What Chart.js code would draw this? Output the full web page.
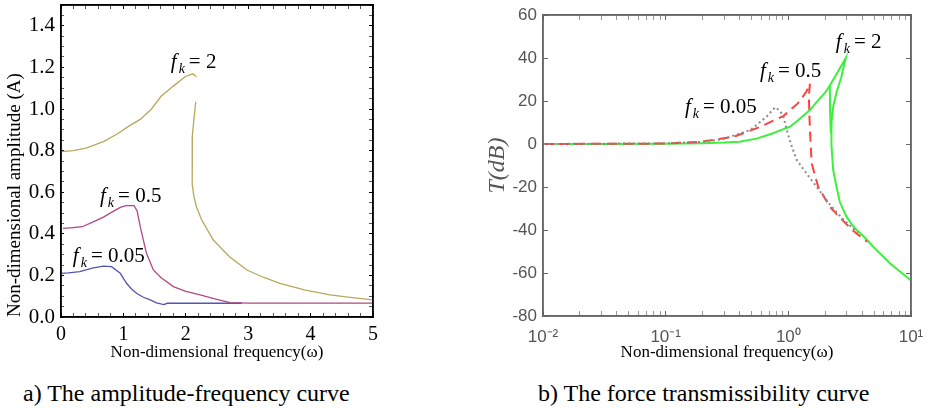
<!DOCTYPE html>
<html>
<head>
<meta charset="utf-8">
<script src="https://cdn.jsdelivr.net/npm/chart.js@4.4.1/dist/chart.umd.min.js"></script>
<style>
  body { margin: 0; background: #fff; width: 927px; height: 408px; position: relative; overflow: hidden;
         font-family: 'Liberation Serif', 'Times New Roman', serif; }
  canvas { position: absolute; top: 0; }
  #ampChart { left: 0; }
  #transChart { left: 440px; }
  .cap { position: absolute; top: 378px; font-size: 24px; line-height: 30px; white-space: nowrap; color: #000; }
</style>
</head>
<body>
<canvas id="ampChart" width="400" height="363"></canvas>
<canvas id="transChart" width="487" height="363"></canvas>
<div class="cap" style="left:23px">a) The amplitude-frequency curve</div>
<div class="cap" style="left:538px">b) The force transmissibility curve</div>
<script>
// ---- a) amplitude-frequency data, [omega, A] ----
const ampFk2Upper = [[0,0.795],[0.2,0.8],[0.4,0.812],[0.68,0.843],[0.9,0.88],[1.1,0.92],[1.27,0.95],[1.45,1.0],
  [1.6,1.06],[1.8,1.11],[1.99,1.155],[2.07,1.165],[2.12,1.168],[2.17,1.155]];
const ampFk2Lower = [[2.16,1.035],[2.13,0.95],[2.105,0.87],[2.1,0.75],[2.105,0.64],[2.13,0.58],[2.17,0.53],
  [2.25,0.47],[2.44,0.37],[2.7,0.29],[2.98,0.226],[3.25,0.19],[3.51,0.162],[3.9,0.13],[4.31,0.106],[4.7,0.092],[5,0.082]];
const ampFk05 = [[0.03,0.426],[0.2,0.43],[0.34,0.434],[0.5,0.455],[0.68,0.48],[0.85,0.51],[0.95,0.527],[1.04,0.535],
  [1.17,0.535],[1.22,0.51],[1.27,0.434],[1.32,0.37],[1.37,0.306],[1.48,0.226],[1.6,0.19],[1.8,0.146],[2.0,0.123],
  [2.23,0.106],[2.45,0.088],[2.71,0.069],[3,0.067],[5,0.067]];
const ampFk005 = [[0,0.21],[0.12,0.212],[0.3,0.218],[0.5,0.235],[0.68,0.245],[0.81,0.242],[0.95,0.21],[1.05,0.162],
  [1.13,0.135],[1.21,0.114],[1.32,0.095],[1.43,0.082],[1.53,0.068],[1.65,0.06],[1.7,0.066],[2.9,0.066]];
const ampXRange = [0, 5];
const ampYRange = [0, 1.5];
const ampXTicks = [0, 1, 2, 3, 4, 5];
const ampYTicks = [0, 0.2, 0.4, 0.6, 0.8, 1.0, 1.2, 1.4];

// ---- b) force transmissibility data, [omega, T(dB)] ----
const trFk2 = [[0.01,0],[0.03,0],[0.1,0.1],[0.2,0.4],[0.3,0.7],[0.4,1.1],[0.55,2.5],[0.75,5],[0.9,6.8],[1.03,8],
  [1.2,11],[1.5,15.8],[1.7,19.5],[2.0,24],[2.18,27.2],[2.5,33],[2.94,40],[2.7,31],[2.47,24],[2.32,17.4],[2.25,10],
  [2.24,6.5],[2.25,0],[2.28,-6],[2.32,-12],[2.45,-19],[2.63,-27],[2.98,-33.8],[3.3,-37.5],[3.6,-40],[4.2,-43.5],
  [4.92,-47.8],[6.73,-55.5],[10,-63.5]];
const trFk2Jump = [[2.18,27.2],[2.19,15],[2.22,5]];
const trFk05 = [[0.01,0],[0.1,0.2],[0.19,1],[0.36,3.4],[0.59,8],[0.91,13],[1.2,19],[1.4,24.3],[1.5,28.2],[1.47,22],
  [1.49,11],[1.52,0],[1.55,-9],[1.75,-19.9],[2.18,-29.2],[2.76,-35.4],[3.4,-40.5],[4.4,-45.5]];
const trFk005 = [[0.01,0],[0.1,0.3],[0.2,1],[0.295,2.3],[0.49,6.5],[0.665,12.7],[0.78,17.1],[0.85,15.5],[0.91,13],
  [0.97,6.5],[1.05,0],[1.17,-7.4],[1.4,-13.5],[1.7,-19.9],[2.25,-29.2],[2.8,-35],[3.4,-39.5],[3.7,-41]];
const trXRange = [0.01, 10];
const trYRange = [-80, 60];
const trXTicks = [0.01, 0.1, 1, 10];
const trYTicks = [-80, -60, -40, -20, 0, 20, 40, 60];

const fkValues = ['2', '0.5', '0.05'];

const xy = arr => arr.map(p => ({ x: p[0], y: p[1] }));
// outline of the plot box, from the axis limits
const boxPath = (xr, yr) => xy([[xr[0], yr[0]], [xr[0], yr[1]], [xr[1], yr[1]], [xr[1], yr[0]], [xr[0], yr[0]]]);

// tick positions incl. minor ones (linear: n parts between majors, log: 2..9 per decade)
const withMinor = (majors, n) => {
  const out = [];
  majors.forEach((v, i) => {
    out.push(v);
    if (i < majors.length - 1) for (let k = 1; k < n; k++) out.push(v + (majors[i + 1] - v) * k / n);
  });
  return out;
};
const logMinor = majors => {
  const out = [];
  majors.forEach((v, i) => { out.push(v); if (i < majors.length - 1) for (let k = 2; k < 10; k++) out.push(v * k); });
  return out;
};
const isMajor = (v, majors) => majors.some(m => Math.abs(m - v) < 1e-9 * Math.max(1, Math.abs(m)));

// f_k = ... labels
function fkPlugin(items) {
  return {
    id: 'fkLabels',
    afterDatasetsDraw(chart) {
      const { ctx, scales: { x, y } } = chart;
      ctx.save();
      ctx.fillStyle = '#000';
      ctx.textBaseline = 'alphabetic';
      ctx.textAlign = 'left';
      items.forEach((it, i) => {
        let px = x.getPixelForValue(it.x), py = y.getPixelForValue(it.y);
        ctx.font = 'italic 21px "Liberation Serif"';
        ctx.fillText('f', px, py);
        px += ctx.measureText('f').width + 2;
        ctx.font = 'italic 14px "Liberation Serif"';
        ctx.fillText('k', px, py + 5);
        px += ctx.measureText('k').width + 4;
        ctx.font = '21px "Liberation Serif"';
        ctx.fillText('= ' + fkValues[i], px, py);
      });
      ctx.restore();
    }
  };
}

const line = (data, color, extra) => Object.assign({
  data: xy(data), borderColor: color, borderWidth: 1.3, pointRadius: 0, fill: false, tension: 0
}, extra || {});
const frame = (xr, yr, color) => ({
  data: boxPath(xr, yr), borderColor: color, borderWidth: 1.5, pointRadius: 0, fill: false, tension: 0, clip: false
});

const serif = 'Liberation Serif';
const sans = 'Liberation Sans';

// a zero-size axis that only draws one side of the box, with its ticks pointing inward
const tickAxis = (opts, color, tickLen, ticks, majors, fit) => Object.assign({
  weight: 0,
  ticks: { display: false },
  grid: { display: true, drawOnChartArea: false, drawTicks: true, tickLength: -tickLen,
          tickColor: c => isMajor(c.tick.value, majors) ? color : color + 'aa', tickWidth: 1 },
  border: { display: true, color: color, width: 1.5 },
  afterBuildTicks: s => { s.ticks = ticks.map(v => ({ value: v })); },
  afterFit: fit
}, opts);

const fitX = h => s => { s.height = h; s.paddingLeft = 0; s.paddingRight = 0; };
const fitY = w => s => { s.width = w; s.paddingTop = 0; s.paddingBottom = 0; };
const noLines = { grid: { display: false, drawTicks: false }, border: { display: false } };

const ampXAll = withMinor(ampXTicks, 5);
const ampYAll = withMinor(ampYTicks.concat([1.6]), 4).filter(v => v <= ampYRange[1] + 1e-9);

new Chart(document.getElementById('ampChart'), {
  type: 'line',
  data: {
    datasets: [
      frame(ampXRange, ampYRange, '#000'),
      line(ampFk2Upper, '#b8a85c'),
      line(ampFk2Lower, '#b8a85c'),
      line(ampFk05, '#b04a82'),
      line(ampFk005, '#5454b4')
    ]
  },
  options: {
    responsive: false, animation: false, devicePixelRatio: 1,
    layout: { padding: { left: 4, top: 5, right: 27, bottom: 0 } },
    plugins: { legend: { display: false }, tooltip: { enabled: false } },
    scales: {
      x: Object.assign({
        type: 'linear', position: 'bottom', weight: 1, min: ampXRange[0], max: ampXRange[1],
        afterBuildTicks: s => { s.ticks = ampXTicks.map(v => ({ value: v })); },
        ticks: { padding: 6, autoSkip: false, maxRotation: 0, color: '#000', font: { family: serif, size: 20 } },
        title: { display: true, text: 'Non-dimensional frequency(ω)', color: '#000', padding: 0, font: { family: serif, size: 17 } },
        afterFit: fitX(46)
      }, noLines),
      y: Object.assign({
        type: 'linear', position: 'left', weight: 1, min: ampYRange[0], max: ampYRange[1],
        afterBuildTicks: s => { s.ticks = ampYTicks.map(v => ({ value: v })); },
        ticks: { padding: 6, autoSkip: false, color: '#000', font: { family: serif, size: 21 }, callback: v => v.toFixed(1) },
        title: { display: true, text: 'Non-dimensional amplitude (A)', align: 'start', color: '#000', padding: 0, font: { family: serif, size: 19 } },
        afterFit: fitY(57)
      }, noLines),
      xb: tickAxis({ type: 'linear', position: 'bottom', min: ampXRange[0], max: ampXRange[1] }, '#000000', 4, ampXAll, ampXTicks, fitX(0)),
      xt: tickAxis({ type: 'linear', position: 'top', min: ampXRange[0], max: ampXRange[1] }, '#000000', 4, ampXAll, ampXTicks, fitX(0)),
      yl: tickAxis({ type: 'linear', position: 'left', min: ampYRange[0], max: ampYRange[1] }, '#000000', 3, ampYAll, ampYTicks, fitY(0)),
      yr: tickAxis({ type: 'linear', position: 'right', min: ampYRange[0], max: ampYRange[1] }, '#000000', 4, ampYAll, ampYTicks, fitY(0))
    }
  },
  plugins: [fkPlugin([{ x: 1.76, y: 1.197 }, { x: 0.625, y: 0.553 }, { x: 0.19, y: 0.264 }])]
});

const supDigits = { '-': '⁻', '0': '⁰', '1': '¹', '2': '²', '3': '³' };
const sup = n => String(n).split('').map(c => supDigits[c]).join('');
const trXAll = logMinor(trXTicks);

new Chart(document.getElementById('transChart'), {
  type: 'line',
  data: {
    datasets: [
      frame(trXRange, trYRange, '#666'),
      line(trFk005, '#8a8a8a', { borderWidth: 2, borderDash: [2, 3] }),
      line(trFk05, '#ff4040', { borderWidth: 2, borderDash: [10, 6] }),
      line(trFk2, '#3ef03e', { borderWidth: 2 }),
      line(trFk2Jump, '#3ef03e', { borderWidth: 2 })
    ]
  },
  options: {
    responsive: false, animation: false, devicePixelRatio: 1,
    layout: { padding: { left: 43, top: 15, right: 16, bottom: 0 } },
    plugins: { legend: { display: false }, tooltip: { enabled: false } },
    scales: {
      x: Object.assign({
        type: 'logarithmic', position: 'bottom', weight: 1, min: trXRange[0], max: trXRange[1],
        afterBuildTicks: s => { s.ticks = trXTicks.map(v => ({ value: v })); },
        ticks: { padding: 11, maxRotation: 0, autoSkip: false, color: '#555', font: { family: sans, size: 17 },
                 callback: v => '10' + sup(Math.round(Math.log10(v))) },
        title: { display: true, text: 'Non-dimensional frequency(ω)', color: '#000', padding: 0, font: { family: serif, size: 17 } },
        afterFit: fitX(47)
      }, noLines),
      y: Object.assign({
        type: 'linear', position: 'left', weight: 1, min: trYRange[0], max: trYRange[1],
        afterBuildTicks: s => { s.ticks = trYTicks.map(v => ({ value: v })); },
        ticks: { padding: 6, autoSkip: false, color: '#555', font: { family: sans, size: 17 } },
        title: { display: true, text: 'T(dB)', color: '#555', padding: 0, font: { family: serif, size: 24, style: 'italic' } },
        afterFit: fitY(60)
      }, noLines),
      xb: tickAxis({ type: 'logarithmic', position: 'bottom', min: trXRange[0], max: trXRange[1] }, '#666666', 5, trXAll, trXTicks, fitX(0)),
      xt: tickAxis({ type: 'logarithmic', position: 'top', min: trXRange[0], max: trXRange[1] }, '#666666', 5, trXAll, trXTicks, fitX(0)),
      yl: tickAxis({ type: 'linear', position: 'left', min: trYRange[0], max: trYRange[1] }, '#666666', 5, trYTicks, trYTicks, fitY(0)),
      yr: tickAxis({ type: 'linear', position: 'right', min: trYRange[0], max: trYRange[1] }, '#666666', 5, trYTicks, trYTicks, fitY(0))
    }
  },
  plugins: [fkPlugin([{ x: 2.44, y: 44.6 }, { x: 0.587, y: 31.2 }, { x: 0.1436, y: 14.4 }])]
});
</script>
</body>
</html>
